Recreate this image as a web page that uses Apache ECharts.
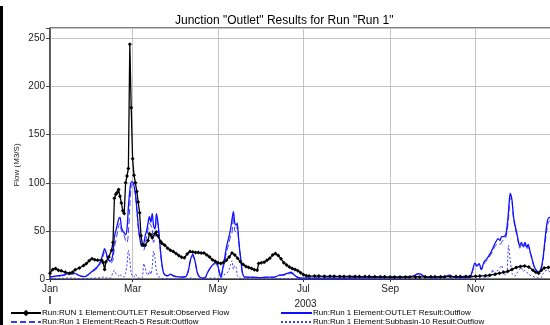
<!DOCTYPE html>
<html>
<head>
<meta charset="utf-8">
<script src="https://cdn.jsdelivr.net/npm/echarts@6/dist/echarts.min.js"></script>
<style>html,body{margin:0;padding:0;background:#fff;}#c{width:550px;height:325px;}</style>
</head>
<body>
<div id="c"></div>
<script>
// ---- data (x = day offset from 2003-01-01) ----
const chartTitle = 'Junction "Outlet" Results for Run "Run 1"';
const yAxisName = 'Flow (M3/S)';
const yearLabel = '2003';
const tickMonthIndex = [0, 2, 4, 6, 8, 10];
const tickMonthNames = ['Jan', 'Mar', 'May', 'Jul', 'Sep', 'Nov'];
const seriesNames = [
  'Run:RUN 1 Element:OUTLET Result:Observed Flow',
  'Run:Run 1 Element:OUTLET Result:Outflow',
  'Run:Run 1 Element:Reach-5 Result:Outflow',
  'Run:Run 1 Element:Subbasin-10 Result:Outflow'
];

const obsDays = [0,2,4,6,8,11,14,16,18,21,24,26,28,30,32,34,37,38,39,40,42,44,45,46,47,48,49,50,51,52,53,54,55,56,57,58,59,60,61,62,63,64,65,66,67,68,70,71,72,73,75,76,77,79,80,82,84,86,88,90,92,94,96,98,100,102,104,106,108,110,112,114,116,118,120,122,124,126,128,130,132,134,136,138,140,142,144,146,148,149,151,153,155,157,159,161,163,165,167,169,171,173,175,177,179,181,183,185,189,192,196,200,203,207,210,214,218,221,225,228,232,236,239,243,246,250,254,257,261,264,268,272,275,279,282,286,290,293,297,300,304,307,311,314,318,321,324,327,330,333,336,339,342,345,347,349,351,353,356,359,362,364];
const obsFlow = [6,10,11,9,8.5,7,6,7,9.5,11.5,14,16,19,21,20,19.5,19.5,17,10,18,23,30,38,84,88,90,93,86,79,71,68,100,107,115,244,178,125,108,100,91,80,69,45,36,35,35,40,47,46,43,47,49,45,39,37,35,32,30,28.5,26.5,24.5,22.5,22,26,28.5,28,27.5,27.5,27,27,25,23,20,18.5,17,16,17.5,19.5,23,27,25,21.5,18,15,13,12,11,9.5,9,16,17,17.5,19.5,21.5,25,26.5,24.5,21,17,14.5,12.5,11,10,8.5,6.5,4.5,3.5,3,3,3,2.8,2.8,2.8,2.7,2.7,2.6,2.6,2.5,2.5,2.5,2.4,2.3,2.3,2.2,2.2,2.2,2.2,2.2,2.2,2.2,2.3,2.3,2.3,2.4,2.4,2.5,2.5,2.5,2.6,2.6,2.8,3,3.5,4,5,6,7,8,10,12,13,13.5,12.5,9,7,6,9,11.5,12,12.5,12,12];

const simDays = [0,4,9,13,16,19,22,25,28,31,34,36,38,39,40,41,43,44,45,46,47,48,49,50,51,52,53,54,55,56,57,58,59,60,61,62,63,64,65,66,67,68,69,70,71,72,73,74,75,76,77,78,79,80,81,82,84,86,88,90,94,97,99,100,101,102,103,104,105,106,107,109,111,112,113,115,117,118.5,120,121,122,123,124,125,126,127,128,129,130,131,132,133,133.7,134.5,135.5,136.5,137.5,139,145,150,155,160,164,167,170,172,174,176,179,185,195,210,225,240,250,256,260,263,265,268,275,282,285,288,295,300,302,303.5,305,306.5,308,310,312.5,315,316,317.5,319,320,321.5,322.5,324,325.5,326.5,327.5,328.7,330,331,332,333.4,334.5,335.5,336.7,338,339.3,340.5,341.5,343,344.5,346,347.5,349,350.5,352,353.5,355,356.5,358,361,364];
const outletFlow = [2,3,4,5.5,6.5,5,3,2.5,5.5,9,13,18,27,31.5,28,22.5,18.5,20,27,44,50,56,62,64,54,50,48,46,52,75,92,101,101,97,89,74,56,44,36,34,37,45,50,58,65,59,68,55,52,68,60,45,28,15,7,4.5,3.5,5,3.5,2.5,2,2.5,10,18,23,25.5,22,16,8,4,2,1,1.5,5,8,12.5,16,17,13,7,2,8,16,24,33,39,45,52,62,70,58,56,58,46,30,18,6,2,1.8,1.5,2,2,4,4.5,6,7,5,2.5,1,1,1,1,1.2,1.5,1.5,2,3.5,5.5,5,2,1.5,2,4,2,1.5,2.5,10,16.5,14,16,10,17.5,22,28,31,36,40,42,40,44,44,46,55,70,89,82,66,57,48,40,34,38,34,38,33,36,28,20,12.5,9,7.5,10,20,40,58,64,62,52,40];
const reachFlow = [2,2.5,3.5,4.5,5,4.5,3,2.5,5,8,11.5,16,24,28,26,21,17,17,20,33,40,47,55,58,50,47,45,40,38,48,75,96,99,96,86,72,55,43,35,33,30,36,44,52,58,56,52,38,44,62,58,44,27,14,6.5,4,3,4.5,3,2.5,2,2.5,9,17,22,24,21,15,7.5,3.5,1.5,1,1.5,4.5,7.5,12,15,16,12,6.5,2,6,13,20,28,33,38,45,48,65,50,49,55,44,29,17,5.5,2,1.6,1.4,1.8,1.8,3.5,4,5,6,4.5,2.3,1,1,1,1,1.1,1.4,1.4,1.8,3,5,4.5,2,1.4,2,3.5,2,1.5,2.3,9,15,13,15,9.5,16,20,26,28,33,36,37,36,38,41,43,50,62,84,80,64,55,46,38,32,35,32,36,31,34,27,19,12,8.5,7,9,18,36,52,60,60,51,39];
const subbasinFlow = [0.5,0.5,0.8,1,1,0.5,0.3,0.3,0.5,1,1,1.5,2,2.5,1.5,1,1,3,7,9,6,4,3,5,3,2,2,6,15,30,20,6,3,2,5,3,1,1,1,1.5,16,12,6,4,8,5,12,29,22,8,3,2,1,0.5,0.5,0.3,0.3,0.5,0.3,0.2,0.2,0.3,1,1,1,1,0.5,0.5,0.3,0.2,0.2,0.2,0.2,0.5,0.5,1,1,1,0.5,0.5,0.3,2,4,5,6,7,10,15,19,10,14,12,4,2,1,0.5,0.3,0.2,0.2,0.2,0.2,0.2,0.3,0.3,0.5,0.5,0.3,0.2,0.1,0.1,0.1,0.1,0.1,0.1,0.1,0.2,0.3,0.5,0.3,0.2,0.1,0.2,0.3,0.2,0.1,0.2,1,1,1,1,0.5,1,2,3,10,3,8,9,12,14,6,4,8,35,20,6,4,3,6,8,10,12,8,9,7,6,4,3,2,1.5,1,1,5,8,9,8,6,4,3];

// ---- helpers ----
const DAY = 86400000;
const t0 = new Date(2003, 0, 1).getTime();
const yearDays = Math.round((new Date(2004, 0, 1).getTime() - t0) / DAY);
const tickDays = tickMonthIndex.map(m => Math.round((new Date(2003, m, 1).getTime() - t0) / DAY));
const pairs = (days, vals) => days.map((d, i) => [d, vals[i]]);
const FONT = 'Liberation Sans, Arial, sans-serif';

const chart = echarts.init(document.getElementById('c'), null, {renderer: 'canvas'});

function legendAt(name, left, top, iconW, showMarker) {
  const lg = {
    data: [name], left: left, top: top, orient: 'horizontal',
    itemWidth: iconW, itemHeight: 8, itemGap: 0, padding: 0,
    selectedMode: false,
    textStyle: {fontFamily: FONT, fontSize: 8, color: '#000', padding: [0, 0, 0, -4]}
  };
  if (!showMarker) lg.itemStyle = {opacity: 0};
  return lg;
}

chart.setOption({
  animation: false,
  backgroundColor: '#fff',
  title: {
    text: chartTitle, left: 170, top: 10,
    textStyle: {fontFamily: FONT, fontSize: 12, fontWeight: 'normal', color: '#000'}
  },
  legend: [
    legendAt(seriesNames[0], 10, 309, 30, true),
    legendAt(seriesNames[1], 280, 309, 31, false),
    legendAt(seriesNames[2], 10, 318, 30, false),
    legendAt(seriesNames[3], 280, 318, 31, false)
  ],
  grid: {
    left: 50, top: 28, width: 511, bottom: 46,
    outerBoundsMode: 'none',
    show: true, borderColor: '#000', borderWidth: 1, containLabel: false
  },
  xAxis: {
    type: 'value', min: 0, max: yearDays,
    name: yearLabel, nameLocation: 'middle', nameGap: 17,
    nameTextStyle: {fontFamily: FONT, fontSize: 10, color: '#222'},
    axisLine: {show: true, lineStyle: {color: '#333', width: 1}},
    axisTick: {show: true, length: 3, customValues: tickDays, lineStyle: {color: '#333'}},
    axisLabel: {
      customValues: tickDays, margin: 5,
      fontFamily: FONT, fontSize: 10, color: '#222',
      formatter: v => { const i = tickDays.indexOf(v); return i >= 0 ? tickMonthNames[i] : ''; }
    },
    splitLine: {show: true, lineStyle: {color: '#c4c4c4', width: 1}}
  },
  yAxis: {
    type: 'value', min: 0, max: 261, interval: 50,
    axisLine: {show: true, lineStyle: {color: '#444', width: 1.5}},
    axisTick: {show: true, length: 4, lineStyle: {color: '#444'}},
    axisLabel: {
      margin: 5, fontFamily: FONT, fontSize: 10, color: '#222',
      formatter: v => (v % 50 === 0 ? String(v) : '')
    },
    splitLine: {show: true, lineStyle: {color: '#c4c4c4', width: 1}}
  },
  graphic: [
    {type: 'rect', shape: {x: 0, y: 6, width: 3, height: 319}, style: {fill: '#000'}},
    {type: 'line', shape: {x1: 50, y1: 296, x2: 50, y2: 304}, style: {stroke: '#222', lineWidth: 1.5}},
    {type: 'text', x: 17, y: 165, rotation: Math.PI / 2,
     style: {text: yAxisName, fontFamily: FONT, fontSize: 8, fill: '#222', align: 'center', verticalAlign: 'middle'}}
  ],
  series: [
    {
      name: seriesNames[0], type: 'line', data: pairs(obsDays, obsFlow),
      color: '#000', symbol: 'diamond', symbolSize: 4, showSymbol: true,
      lineStyle: {color: '#000', width: 1.3}, itemStyle: {color: '#000'}, z: 5
    },
    {
      name: seriesNames[1], type: 'line', data: pairs(simDays, outletFlow),
      color: '#1010ff', symbol: 'none', smooth: 0.3,
      lineStyle: {color: '#1010ff', width: 1.3}, z: 4
    },
    {
      name: seriesNames[2], type: 'line', data: pairs(simDays, reachFlow),
      color: '#3a3aff', symbol: 'none', smooth: 0.3,
      lineStyle: {color: '#3a3aff', width: 1, type: [6, 3]}, z: 3
    },
    {
      name: seriesNames[3], type: 'line', data: pairs(simDays, subbasinFlow),
      color: '#3a3aff', symbol: 'none', smooth: 0.3,
      lineStyle: {color: '#3a3aff', width: 1, type: [2, 2]}, z: 2
    }
  ]
});
</script>
</body>
</html>
